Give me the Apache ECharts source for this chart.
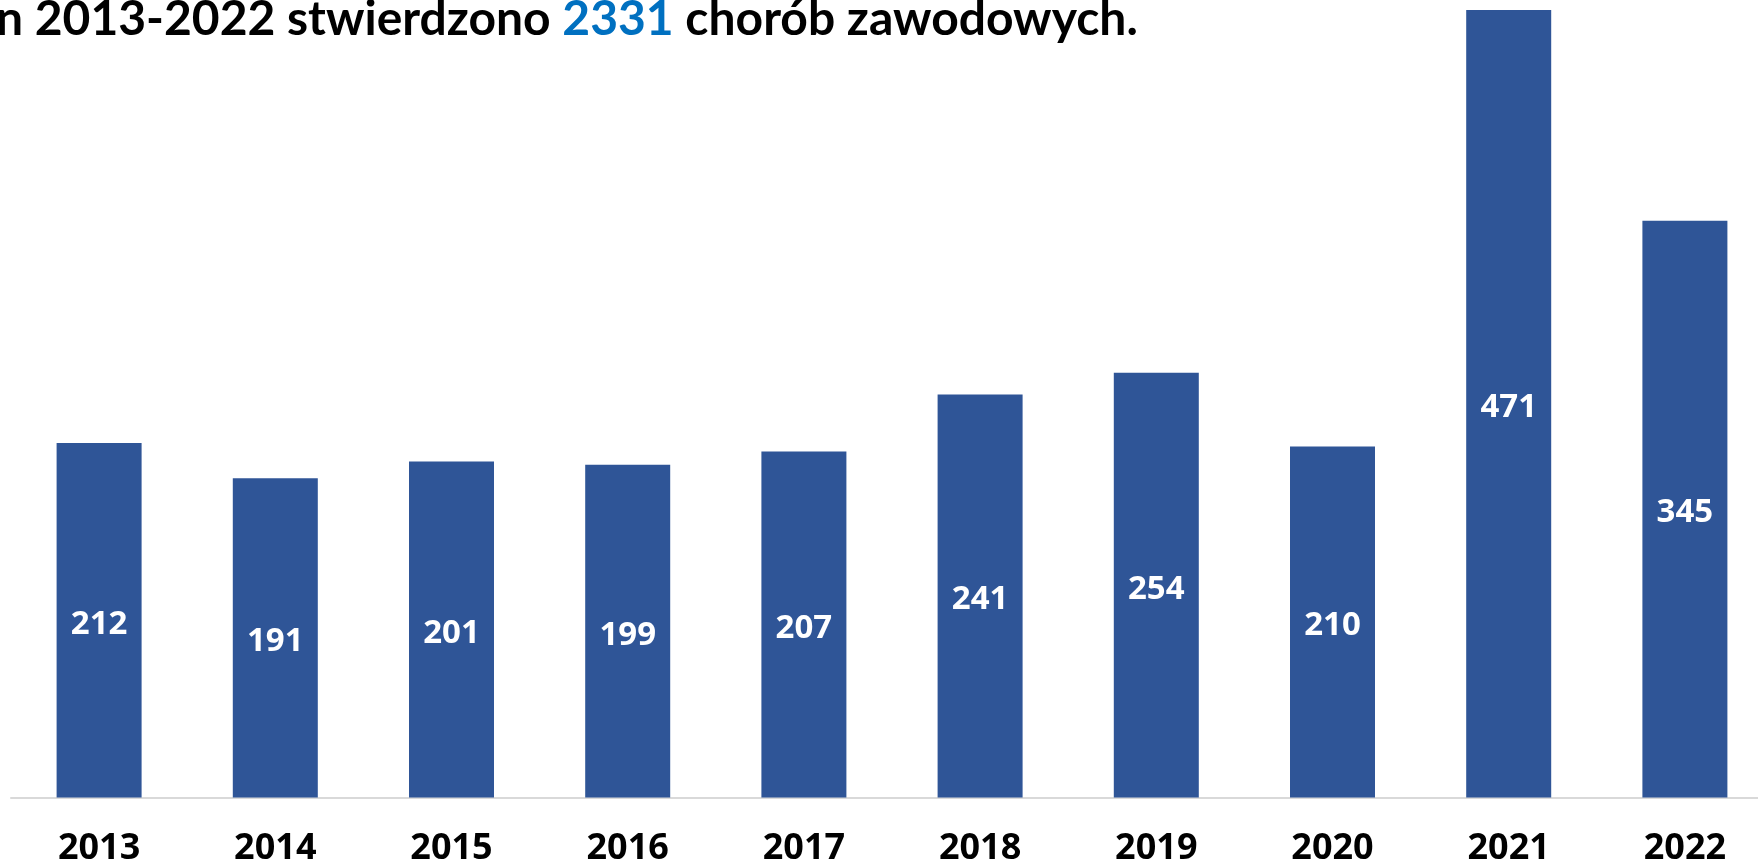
<!DOCTYPE html>
<html>
<head>
<meta charset="utf-8">
<script src="https://cdn.jsdelivr.net/npm/echarts@6/dist/echarts.min.js"></script>
<style>
  html, body { margin: 0; padding: 0; background: #fff; }
  #chart { width: 1758px; height: 862px; }
</style>
</head>
<body>
<div id="chart"></div>
<script>
// dane
const years = ["2013", "2014", "2015", "2016", "2017", "2018", "2019", "2020", "2021", "2022"];
const cases = [212, 191, 201, 199, 207, 241, 254, 210, 471, 345];
const totalCases = "2331";

const chart = echarts.init(document.getElementById("chart"));

chart.setOption({
  animation: false,
  title: {
    text: "n 2013-2022 stwierdzono {b|" + totalCases + "} chorób zawodowych.",
    left: -4,
    top: -4,
    padding: 0,
    textStyle: {
      fontFamily: "Lato",
      fontWeight: "bold",
      fontSize: 48,
      color: "#000",
      rich: {
        b: {
          fontFamily: "Lato",
          fontWeight: "bold",
          fontSize: 48,
          color: "#0070C0"
        }
      }
    }
  },
  grid: {
    left: 11,
    right: -15,
    top: 10,
    bottom: 64.5,
    containLabel: false,
    outerBoundsMode: "none"
  },
  xAxis: {
    type: "category",
    data: years,
    axisLine: { lineStyle: { color: "#D9D9D9", width: 2 } },
    axisTick: { show: false },
    axisLabel: {
      margin: 33,
      color: "#000",
      fontFamily: "Noto Sans",
      fontWeight: "bold",
      fontSize: 36
    }
  },
  yAxis: {
    type: "value",
    min: 0,
    max: 471,
    show: false,
    splitLine: { show: false }
  },
  series: [
    {
      type: "bar",
      data: cases,
      barWidth: 85,
      itemStyle: { color: "#2F5597" },
      label: {
        show: true,
        position: "inside",
        offset: [0, 4],
        color: "#fff",
        fontFamily: "Noto Sans",
        fontWeight: "bold",
        fontSize: 33
      }
    }
  ]
});
</script>
</body>
</html>
